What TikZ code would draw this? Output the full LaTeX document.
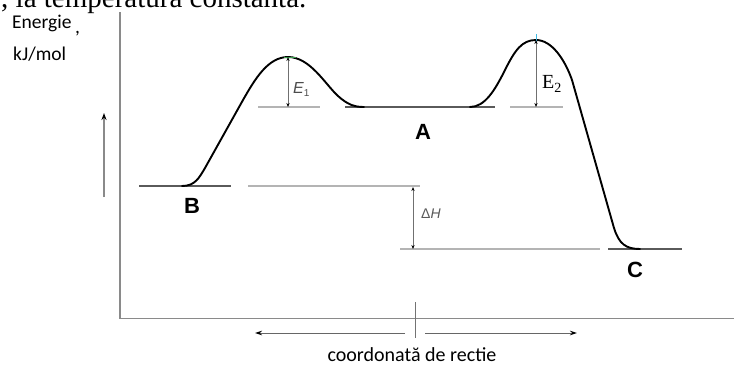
\documentclass[tikz,border=0pt]{standalone}
\usepackage{fontspec}
\setmainfont{Liberation Serif}
\newfontfamily\calibri{Carlito}
\newfontfamily\arialf{Liberation Sans}
\usetikzlibrary{arrows.meta}
\definecolor{axisgray}{HTML}{8A8A8A}
\definecolor{levelgray}{HTML}{5A5A5A}
\definecolor{refgray}{HTML}{B4B4B4}
\definecolor{dimgray}{HTML}{707070}
\definecolor{markgreen}{HTML}{3CA050}
\definecolor{markcyan}{HTML}{40B8E0}
\tikzset{
  axisline/.style={draw=axisgray, line width=1.6pt},
  levelline/.style={draw=levelgray, line width=1.3pt},
  refline/.style={draw=refgray, line width=1.1pt},
  curveline/.style={draw=black, line width=1.9pt, line cap=round, line join=round},
  dimarrow/.style={draw=dimgray, line width=0.8pt, {Stealth[length=4pt,width=3.2pt,black]}-{Stealth[length=4pt,width=3.2pt,black]}},
  xarrow/.style={draw=black!60, line width=1pt, -{Stealth[length=7pt,width=4.5pt,black]}},
  letterlbl/.style={inner sep=0pt, font=\arialf\bfseries\fontsize{22}{24}\selectfont},
  sidetxt/.style={inner sep=0pt, anchor=base west, font=\calibri\fontsize{19.5}{21}\selectfont},
}
\begin{document}
\begin{tikzpicture}[x=1pt,y=-1pt]
\useasboundingbox (0,0) rectangle (734,365);
% cut-off heading
\node[inner sep=0pt, anchor=base west, font=\fontsize{29}{31}\selectfont] (head) at (1,7) {, la temperatură constantă.};
% axis labels
\node[sidetxt] (en) at (12,28) {Energie};
\node[sidetxt] (comma) at (75,33) {,};
\node[sidetxt] (unit) at (13,60) {kJ/mol};
% axes
\coordinate (Ytop) at (120,12);
\coordinate (O) at (120,318.5);
\coordinate (Xend) at (734,318.5);
\draw[axisline] (Ytop) -- (O) -- (Xend);
% up arrow
\coordinate (ua1) at (104,197);
\coordinate (ua2) at (104,113);
\draw[draw=axisgray, line width=1.5pt, -{Stealth[length=7pt,width=5pt,black]}] (ua1) -- (ua2);
% reaction coordinate tick & arrows
\coordinate (t1) at (415,302);
\coordinate (t2) at (415,338);
\draw[draw=black!55, line width=1pt] (t1) -- (t2);
\coordinate (la1) at (405,333);
\coordinate (la2) at (255,333);
\coordinate (ra1) at (425,333);
\coordinate (ra2) at (577,333);
\draw[xarrow] (la1) -- (la2);
\draw[xarrow] (ra1) -- (ra2);
\node[inner sep=0pt, anchor=base, font=\calibri\fontsize{20}{22}\selectfont] (xl) at (412,361) {coordonată de rectie};
% levels
\coordinate (B1) at (139,186); \coordinate (B2) at (231,186);
\coordinate (Br1) at (248,186); \coordinate (Br2) at (420,186);
\coordinate (A1) at (345,107); \coordinate (A2) at (495,107);
\coordinate (E1b1) at (258,107); \coordinate (E1b2) at (320,107);
\coordinate (E2b1) at (510,107); \coordinate (E2b2) at (563,107);
\coordinate (Cr1) at (400,249); \coordinate (Cr2) at (600,249);
\coordinate (C1) at (608,249); \coordinate (C2) at (682,249);
\draw[refline] (Br1) -- (Br2);
\draw[refline] (E1b1) -- (E1b2);
\draw[refline] (E2b1) -- (E2b2);
\draw[refline] (Cr1) -- (Cr2);
\draw[levelline] (B1) -- (B2);
\draw[levelline] (A1) -- (A2);
\draw[levelline] (C1) -- (C2);
% energy curves
\draw[curveline] (182,186) .. controls (195,186) and (199,178) .. (205,168)
  -- (243,100) .. controls (255,79) and (268,57) .. (288,57)
  .. controls (310,57) and (325,84) .. (338,96)
  .. controls (348,105) and (355,107) .. (364,107);
\draw[curveline] (470,107) .. controls (485,107) and (495,90) .. (505,70)
  .. controls (515,50) and (522,40) .. (536,40)
  .. controls (552,40) and (565,60) .. (572,80)
  -- (614,228) .. controls (619,244) and (626,249) .. (640,249);
% peak marks
\draw[markgreen, line width=0.8pt] (284,57) -- (296,57);
\draw[markcyan, line width=1pt] (536,34) -- (536,42);
% dimension arrows
\coordinate (P1) at (288,57); \coordinate (P1b) at (288,107);
\coordinate (P2) at (536,40); \coordinate (P2b) at (536,107);
\coordinate (H1) at (413,187); \coordinate (H2) at (413,249);
\draw[dimarrow] (P1) -- (P1b);
\draw[dimarrow] (P2) -- (P2b);
\draw[dimarrow] (H1) -- (H2);
% labels
\node[inner sep=0pt, anchor=base west, text=black!70] (e1) at (293,93) {\arialf\fontsize{16}{17}\selectfont\itshape E\raisebox{-3pt}{\upshape\fontsize{10}{10}\selectfont 1}};
\node[inner sep=0pt, anchor=west] (e2) at (542,84) {\fontsize{20}{22}\selectfont E\raisebox{-4pt}{\fontsize{14}{14}\selectfont 2}};
\node[inner sep=0pt, anchor=west, text=black!65] (dh) at (421,214) {\arialf\fontsize{14}{15}\selectfont Δ\textit{H}};
\node[letterlbl] (lA) at (423,132) {A};
\node[letterlbl] (lB) at (192,206) {B};
\node[letterlbl] (lC) at (635,270) {C};
\end{tikzpicture}
\end{document}
